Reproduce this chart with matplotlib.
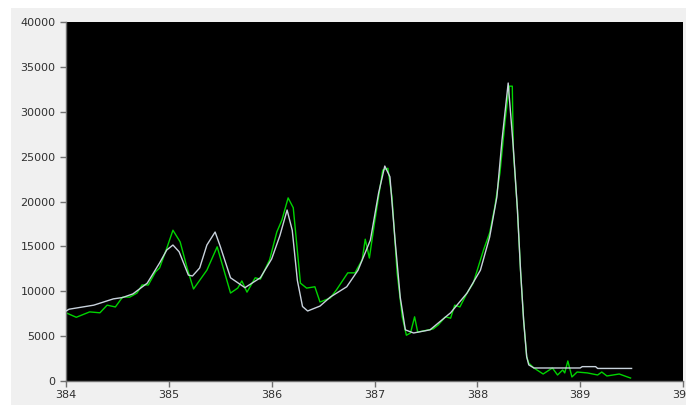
import matplotlib
matplotlib.use("Agg")
import matplotlib.pyplot as plt
from matplotlib.patches import Rectangle

# fitted curve (light line)
fit_x = [384.0, 384.03, 384.27, 384.46, 384.55, 384.65, 384.79, 384.91, 384.98, 385.04,
         385.1, 385.19, 385.23, 385.3, 385.37, 385.45, 385.5, 385.6, 385.74, 385.89,
         386.0, 386.08, 386.15, 386.2, 386.25, 386.3, 386.35, 386.47, 386.57, 386.73,
         386.84, 386.96, 387.04, 387.1, 387.15, 387.2, 387.25, 387.3, 387.38, 387.54,
         387.74, 387.9, 388.03, 388.12, 388.19, 388.24, 388.3, 388.35, 388.39, 388.42,
         388.45, 388.48, 388.5, 388.55, 389.0, 389.02, 389.15, 389.17, 389.5]
fit_y = [7800, 8000, 8450, 9150, 9300, 9700, 10900, 13150, 14600, 15150,
         14400, 11800, 11700, 12600, 15150, 16600, 15000, 11500, 10400, 11500,
         13600, 16200, 19050, 16800, 11200, 8300, 7800, 8350, 9350, 10500,
         12350, 15700, 20950, 23950, 22750, 15700, 9350, 5700, 5350, 5700,
         7600, 9800, 12350, 16050, 20500, 26850, 33200, 26000, 19050, 12350,
         6800, 2700, 1800, 1450, 1450, 1600, 1600, 1400, 1400]

# measured spectrum (green line)
meas_x = [384.0, 384.1, 384.23, 384.33, 384.4, 384.48, 384.55, 384.62, 384.69, 384.74,
          384.8, 384.87, 384.91, 384.98, 385.04, 385.11, 385.18, 385.24, 385.37, 385.47,
          385.6, 385.67, 385.71, 385.76, 385.84, 385.89, 385.98, 386.05, 386.1, 386.16,
          386.21, 386.28, 386.34, 386.42, 386.47, 386.57, 386.63, 386.74, 386.81, 386.88,
          386.91, 386.95, 387.0, 387.08, 387.13, 387.17, 387.22, 387.27, 387.31, 387.35,
          387.39, 387.42, 387.57, 387.62, 387.69, 387.74, 387.78, 387.83, 387.9, 387.96,
          388.06, 388.12, 388.17, 388.22, 388.27, 388.31, 388.34, 388.35, 388.39, 388.42,
          388.45, 388.48, 388.5, 388.55, 388.64, 388.73, 388.78, 388.83, 388.85, 388.88,
          388.92, 388.97, 389.07, 389.17, 389.21, 389.26, 389.38, 389.46, 389.49]
meas_y = [7600, 7100, 7700, 7600, 8450, 8250, 9350, 9350, 9800, 10700,
          10700, 12150, 12600, 14800, 16800, 15500, 12500, 10250, 12350, 14950,
          9800, 10350, 11150, 9900, 11500, 11350, 13500, 16600, 17950, 20400,
          19300, 10900, 10350, 10500, 8800, 9250, 10150, 12050, 12050, 13500,
          15800, 13700, 17600, 23500, 23700, 20500, 12050, 7150, 5100, 5350,
          7150, 5450, 5800, 6250, 7150, 7000, 8450, 8250, 9800, 10900,
          14600, 16500, 19400, 23200, 29000, 32850, 32850, 25700, 19050, 12350,
          6800, 2700, 2000, 1450, 780, 1450, 670, 1230, 900, 2230,
          450, 1000, 900, 670, 1000, 560, 780, 450, 330]

fig = plt.figure(figsize=(6.86, 4.05), dpi=100, facecolor="white")
fig.patches.append(Rectangle((11 / 686, 0), 1, 397 / 405, transform=fig.transFigure,
                             facecolor="#f0f0f0", edgecolor="none", zorder=-1))

ax = fig.add_axes([66 / 686, 24 / 405, 617 / 686, 359 / 405])
ax.set_facecolor("black")

ax.plot(fit_x, fit_y, color="#c8d2dc", lw=1.0, zorder=3)
ax.plot(meas_x, meas_y, color="#00d400", lw=1.0, zorder=2)

ax.set_xlim(384, 390)
ax.set_ylim(0, 40000)
ax.set_xticks(range(384, 391))
ax.set_yticks(range(0, 40001, 5000))

for side in ["top", "right"]:
    ax.spines[side].set_visible(False)
for side in ["left", "bottom"]:
    ax.spines[side].set_color("#707070")
    ax.spines[side].set_linewidth(1.0)

ax.tick_params(direction="out", length=4.5, width=1, color="#707070",
               labelsize=8, labelcolor="#303030")
ax.tick_params(axis="y", pad=3)
ax.tick_params(axis="x", pad=2)

fig.savefig("out.png", dpi=100, facecolor=fig.get_facecolor())
